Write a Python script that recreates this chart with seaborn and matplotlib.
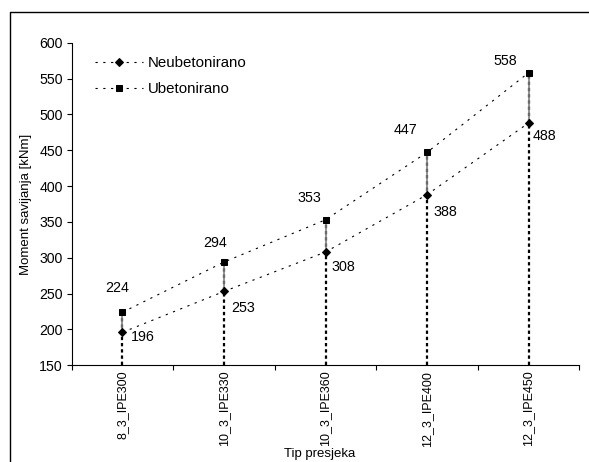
import numpy as np
import pandas as pd
import matplotlib
matplotlib.use("Agg")
import matplotlib.pyplot as plt
from matplotlib.lines import Line2D
import seaborn as sns

# podaci sa grafika
presjeci = ["8_3_IPE300", "10_3_IPE330", "10_3_IPE360", "12_3_IPE400", "12_3_IPE450"]
neubetonirano = [196, 253, 308, 388, 488]
ubetonirano = [224, 294, 353, 447, 558]
y_ticks = [150, 200, 250, 300, 350, 400, 450, 500, 550, 600]

# pomaci oznaka (u tockama), rucno namjesteni kao u Excelu
off_ub = [(-3.6, 17.3), (-6.5, 13.7), (-11.5, 15.8), (-15.8, 15.8), (-16.6, 8.6)]
off_neub = [(5.8, -3.3), (5.0, -12.2), (4.3, -10.8), (5.0, -12.2), (2.9, -9.4)]

sns.set_theme(style="white")
plt.rcParams["font.family"] = ["Liberation Sans", "DejaVu Sans"]
plt.rcParams["text.color"] = "black"
plt.rcParams["axes.labelcolor"] = "black"
plt.rcParams["xtick.color"] = "black"
plt.rcParams["ytick.color"] = "black"

pos = np.arange(len(presjeci))
df = pd.DataFrame({
    "pos": np.concatenate([pos, pos]),
    "moment": neubetonirano + ubetonirano,
    "serija": ["Neubetonirano"] * len(pos) + ["Ubetonirano"] * len(pos),
})

fig = plt.figure(figsize=(5.89, 4.62), dpi=100)
ax = fig.add_axes([71.7 / 589, 1 - 365.3 / 462, 507.6 / 589, 322.6 / 462])

# drop lines i high-low linije
ax.vlines(pos, 150, ubetonirano, colors="black", linestyles=(0, (1.5, 1.3)), lw=1.6, zorder=1)
ax.vlines(pos, neubetonirano, ubetonirano, colors="#808080", lw=1.2, zorder=2)

sns.lineplot(data=df[df.serija == "Neubetonirano"], x="pos", y="moment", color="black",
             marker="D", markersize=3.8, markeredgecolor="black", lw=0.8,
             linestyle=(0, (2, 5)), label="Neubetonirano", ax=ax, zorder=3)
sns.lineplot(data=df[df.serija == "Ubetonirano"], x="pos", y="moment", color="black",
             marker="s", markersize=5, markeredgecolor="black", lw=0.8,
             linestyle=(0, (2, 5)), label="Ubetonirano", ax=ax, zorder=3)

for i in range(len(pos)):
    ax.annotate(str(ubetonirano[i]), (pos[i], ubetonirano[i]), xytext=off_ub[i],
                textcoords="offset points", ha="center", va="center", fontsize=10.3)
    ax.annotate(str(neubetonirano[i]), (pos[i], neubetonirano[i]), xytext=off_neub[i],
                textcoords="offset points", ha="left", va="center", fontsize=10.3)

ax.set_xlim(-0.5, len(pos) - 0.5)
ax.set_ylim(150, 600)
ax.set_yticks(y_ticks)
ax.set_xticks(pos, presjeci, rotation=90, fontsize=9)
ax.set_xticks(np.arange(-0.5, len(pos)), minor=True)
ax.tick_params(axis="x", which="major", length=0, pad=3.9)
ax.tick_params(axis="x", which="minor", length=3.6, width=0.8, direction="out", bottom=True)
ax.tick_params(axis="y", length=3.6, width=0.8, direction="out", left=True, pad=2.9, labelsize=10.2)

for s in ["top", "right"]:
    ax.spines[s].set_visible(False)
for s in ["left", "bottom"]:
    ax.spines[s].set_color("black")
    ax.spines[s].set_linewidth(0.8)

ax.set_ylabel("Moment savijanja [kNm]", fontsize=9.5)
ax.yaxis.set_label_coords(-0.079, 0.5)
ax.set_xlabel("Tip presjeka", fontsize=9.5)
ax.xaxis.set_label_coords(0.489, -0.256)

ax.legend(loc="upper left", bbox_to_anchor=(0.046, 0.958), frameon=False, fontsize=10.8,
          borderpad=0, borderaxespad=0, handlelength=3.2, handletextpad=0.34, labelspacing=0.78)

# okvir oko grafikona
fig.add_artist(Line2D([10 / 589, 10 / 589, 1.0], [0, 1 - 11.7 / 462, 1 - 11.7 / 462],
                      transform=fig.transFigure, color="black", lw=1))

fig.savefig("out.png", dpi=100)
